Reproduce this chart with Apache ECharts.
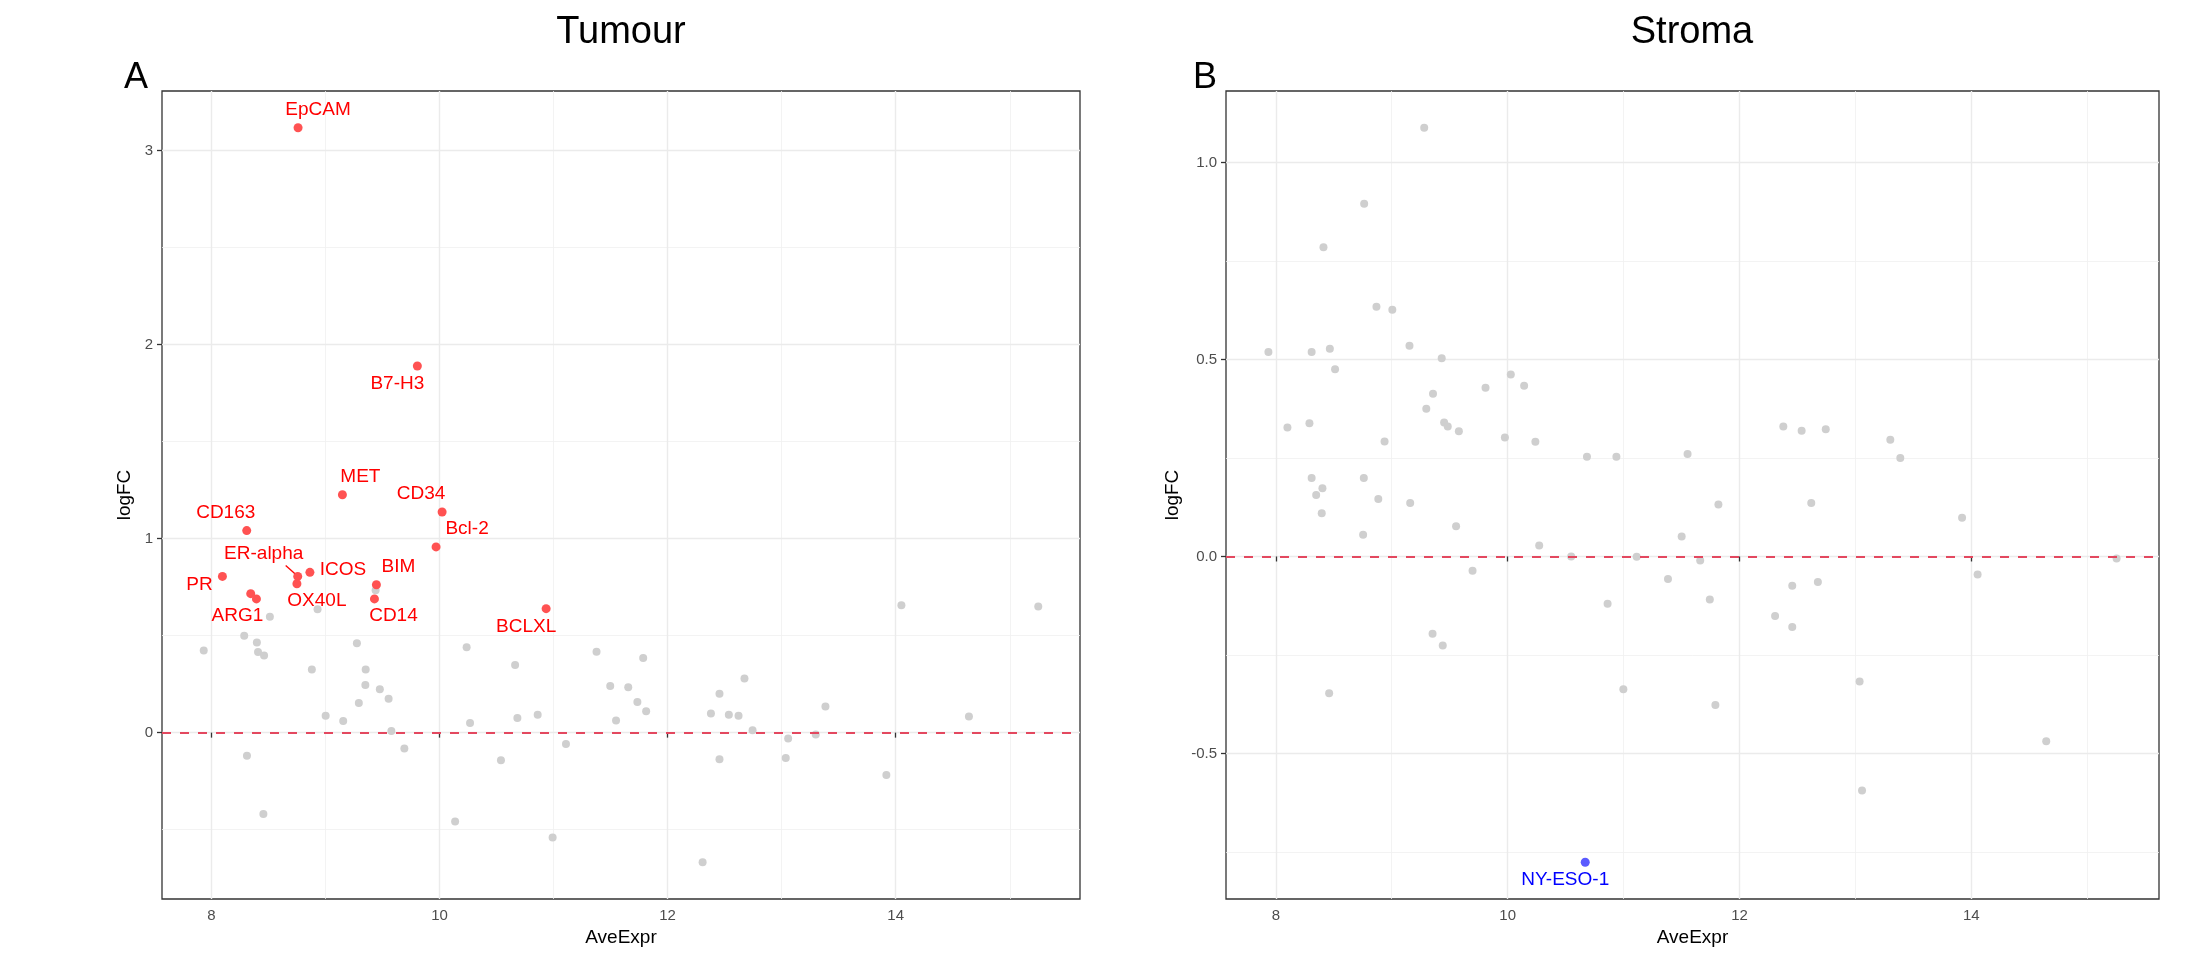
<!DOCTYPE html>
<html>
<head>
<meta charset="utf-8">
<script src="https://cdn.jsdelivr.net/npm/echarts@6/dist/echarts.min.js"></script>
<style>
html,body{margin:0;padding:0;background:#fff;}
#chart{width:2192px;height:954px;}
</style>
</head>
<body>
<div id="chart"></div>
<script>
// ---------------- data ----------------
const panelTitles = ['Tumour', 'Stroma'];
const panelLetters = ['A', 'B'];
const xAxisName = 'AveExpr';
const yAxisName = 'logFC';

const xTicks = [8, 10, 12, 14];
const xMinorGrid = [9, 11, 13, 15];
const tumourYTicks = [0, 1, 2, 3];
const tumourYMinor = [-0.5, 0.5, 1.5, 2.5];
const stromaYTicks = [-0.5, 0, 0.5, 1.0];
const stromaYMinor = [-0.75, -0.25, 0.25, 0.75];

// Tumour: highlighted (red) genes
const tumourHitNames = ['EpCAM', 'B7-H3', 'MET', 'CD34', 'CD163', 'Bcl-2', 'ICOS', 'ER-alpha', 'PR', 'OX40L', 'BIM', '', 'ARG1', 'CD14', 'BCLXL'];
const tumourHitX = [8.760, 9.806, 9.149, 10.023, 8.310, 9.970, 8.864, 8.757, 8.097, 8.750, 9.447, 8.345, 8.395, 9.430, 10.935];
const tumourHitY = [3.117, 1.889, 1.226, 1.137, 1.041, 0.957, 0.826, 0.805, 0.805, 0.767, 0.762, 0.716, 0.689, 0.689, 0.639];

// Tumour: other genes (grey)
const tumourOtherX = [8.513, 8.931, 9.440, 7.933, 8.288, 8.399, 8.409, 8.462, 9.276, 8.881, 9.353, 9.350, 9.477, 9.293, 9.554, 9.002, 9.156, 9.578, 9.692, 8.312, 8.456, 10.238, 10.268, 10.137, 10.663, 10.683, 10.861, 10.539, 10.992, 11.109, 11.377, 11.786, 11.497, 11.655, 11.735, 11.812, 11.548, 12.455, 12.674, 12.380, 12.537, 12.622, 12.745, 13.057, 13.299, 13.384, 12.455, 13.036, 12.307, 14.050, 15.250, 14.642, 13.918];
const tumourOtherY = [0.597, 0.636, 0.734, 0.423, 0.499, 0.464, 0.416, 0.398, 0.460, 0.325, 0.325, 0.245, 0.224, 0.153, 0.174, 0.087, 0.060, 0.009, -0.082, -0.119, -0.419, 0.440, 0.050, -0.458, 0.348, 0.075, 0.092, -0.142, -0.540, -0.059, 0.417, 0.384, 0.240, 0.234, 0.158, 0.110, 0.062, 0.201, 0.279, 0.098, 0.092, 0.087, 0.012, -0.030, -0.009, 0.135, -0.137, -0.131, -0.668, 0.657, 0.650, 0.083, -0.218];

// Stroma: highlighted (blue) genes
const stromaHitNames = ['NY-ESO-1'];
const stromaHitX = [10.669];
const stromaHitY = [-0.776];

// Stroma: other genes (grey)
const stromaOtherX = [9.280, 8.762, 8.411, 8.868, 9.005, 7.936, 8.309, 8.466, 9.153, 9.431, 8.511, 10.027, 9.809, 10.142, 9.356, 9.298, 8.100, 8.290, 9.452, 9.483, 9.579, 8.938, 9.976, 10.239, 10.684, 10.938, 11.552, 8.309, 8.759, 8.402, 8.348, 8.884, 9.159, 8.396, 8.753, 9.555, 10.272, 10.548, 9.697, 11.113, 11.501, 11.383, 10.862, 9.352, 9.440, 8.460, 10.998, 11.818, 11.661, 11.744, 11.792, 12.378, 12.536, 12.744, 12.619, 12.455, 12.676, 12.307, 12.455, 13.036, 13.057, 13.301, 13.387, 13.920, 14.054, 14.646, 15.253];
const stromaOtherY = [1.088, 0.895, 0.785, 0.634, 0.626, 0.519, 0.519, 0.527, 0.535, 0.503, 0.475, 0.462, 0.428, 0.433, 0.413, 0.375, 0.327, 0.338, 0.340, 0.330, 0.318, 0.292, 0.302, 0.291, 0.253, 0.253, 0.260, 0.199, 0.199, 0.173, 0.156, 0.146, 0.136, 0.110, 0.055, 0.077, 0.028, 0.000, -0.036, -0.001, 0.051, -0.057, -0.120, -0.196, -0.226, -0.347, -0.337, 0.132, -0.010, -0.109, -0.377, 0.330, 0.319, 0.323, 0.136, -0.074, -0.065, -0.151, -0.179, -0.317, -0.594, 0.296, 0.250, 0.098, -0.046, -0.469, -0.005];

// ---------------- styling (label placement in pixels) ----------------
const labelOffsets = {
  'EpCAM': [20, -18], 'B7-H3': [-20, 18], 'MET': [18, -18], 'CD34': [-21, -18],
  'CD163': [-21, -18], 'Bcl-2': [31, -18], 'ICOS': [33, -3], 'ER-alpha': [-34, -23],
  'PR': [-23, 8], 'OX40L': [20, 17], 'BIM': [22, -18], 'ARG1': [-19, 17],
  'CD14': [19, 17], 'BCLXL': [-20, 18], 'NY-ESO-1': [-20, 17]
};
const FONT = 'Liberation Sans, Arial, Helvetica, sans-serif';

function zip(xs, ys) { return xs.map((x, i) => [x, ys[i]]); }
function expandRange(xs) {
  const mn = Math.min(...xs), mx = Math.max(...xs);
  const pad = 0.05 * (mx - mn);
  return [mn - pad, mx + pad];
}
function hitData(names, xs, ys) {
  return names.map((n, i) => ({
    name: n,
    value: [xs[i], ys[i]],
    label: n ? { show: true, offset: labelOffsets[n] || [0, -18] } : { show: false }
  }));
}

const tX = expandRange(tumourHitX.concat(tumourOtherX));
const tY = expandRange(tumourHitY.concat(tumourOtherY));
const sX = expandRange(stromaHitX.concat(stromaOtherX));
const sY = expandRange(stromaHitY.concat(stromaOtherY));

const majorLine = { color: '#ebebeb', width: 1.4, type: 'solid' };
const minorLine = { color: '#f0f0f0', width: 0.8, type: 'solid' };

function gridLinesSeries(idx, xMajor, xMinor, yMajor, yMinor) {
  const d = [];
  xMinor.forEach(v => d.push({ xAxis: v, lineStyle: minorLine }));
  yMinor.forEach(v => d.push({ yAxis: v, lineStyle: minorLine }));
  xMajor.forEach(v => d.push({ xAxis: v, lineStyle: majorLine }));
  yMajor.forEach(v => d.push({ yAxis: v, lineStyle: majorLine }));
  return {
    type: 'scatter', xAxisIndex: idx, yAxisIndex: idx, data: [], z: 0, silent: true,
    markLine: { silent: true, symbol: ['none', 'none'], label: { show: false }, animation: false, z: 0, data: d }
  };
}
function zeroLineSeries(idx) {
  return {
    type: 'scatter', xAxisIndex: idx, yAxisIndex: idx, data: [], z: 10, silent: true,
    markLine: {
      silent: true, symbol: ['none', 'none'], label: { show: false }, animation: false, z: 10,
      data: [{ yAxis: 0 }],
      lineStyle: { color: '#e3485f', width: 1.8, type: [9, 9] }
    }
  };
}

function xAxisCfg(idx, range) {
  return {
    type: 'value', gridIndex: idx, min: range[0], max: range[1],
    name: xAxisName, nameLocation: 'middle', nameGap: 28,
    nameTextStyle: { color: '#000', fontSize: 19, fontFamily: FONT },
    axisLine: { show: false },
    axisTick: { show: true, length: 5, lineStyle: { color: '#333', width: 1.3 }, customValues: xTicks },
    axisLabel: { customValues: xTicks, color: '#4d4d4d', fontSize: 15, fontFamily: FONT, margin: 9 },
    splitLine: { show: false }
  };
}
function yAxisCfg(idx, range, ticks, gap, fmt) {
  return {
    type: 'value', gridIndex: idx, min: range[0], max: range[1],
    name: yAxisName, nameLocation: 'middle', nameGap: gap,
    nameTextStyle: { color: '#000', fontSize: 19, fontFamily: FONT },
    axisLine: { show: false },
    axisTick: { show: true, length: 5, lineStyle: { color: '#333', width: 1.3 }, customValues: ticks },
    axisLabel: { customValues: ticks, color: '#4d4d4d', fontSize: 15, fontFamily: FONT, margin: 9, formatter: fmt },
    splitLine: { show: false }
  };
}

const chart = echarts.init(document.getElementById('chart'), null, { renderer: 'canvas' });

const option = {
  animation: false,
  backgroundColor: '#fff',
  grid: [
    { left: 162, right: 1112, top: 91, bottom: 55, show: true, borderColor: '#333', borderWidth: 1.3, backgroundColor: '#fff' },
    { left: 1226, right: 33, top: 91, bottom: 55, show: true, borderColor: '#333', borderWidth: 1.3, backgroundColor: '#fff' }
  ],
  xAxis: [xAxisCfg(0, tX), xAxisCfg(1, sX)],
  yAxis: [
    yAxisCfg(0, tY, tumourYTicks, 28, v => String(v)),
    yAxisCfg(1, sY, stromaYTicks, 44, v => v.toFixed(1))
  ],
  graphic: [
    { id: 't0', type: 'text', x: 621, y: 33, style: { text: panelTitles[0], fontSize: 38, fontFamily: FONT, fill: '#000', align: 'center', verticalAlign: 'middle' } },
    { id: 't1', type: 'text', x: 1692, y: 33, style: { text: panelTitles[1], fontSize: 38, fontFamily: FONT, fill: '#000', align: 'center', verticalAlign: 'middle' } },
    { id: 'l0', type: 'text', x: 136, y: 78, style: { text: panelLetters[0], fontSize: 36, fontFamily: FONT, fill: '#000', align: 'center', verticalAlign: 'middle' } },
    { id: 'l1', type: 'text', x: 1205, y: 78, style: { text: panelLetters[1], fontSize: 36, fontFamily: FONT, fill: '#000', align: 'center', verticalAlign: 'middle' } }
  ],
  series: [
    gridLinesSeries(0, xTicks, xMinorGrid, tumourYTicks, tumourYMinor),
    gridLinesSeries(1, xTicks, xMinorGrid, stromaYTicks, stromaYMinor),
    {
      type: 'scatter', xAxisIndex: 0, yAxisIndex: 0, z: 2, silent: true,
      symbolSize: 8, itemStyle: { color: '#cfcfcf', opacity: 1 },
      data: zip(tumourOtherX, tumourOtherY)
    },
    {
      type: 'scatter', xAxisIndex: 1, yAxisIndex: 1, z: 2, silent: true,
      symbolSize: 8, itemStyle: { color: '#cfcfcf', opacity: 1 },
      data: zip(stromaOtherX, stromaOtherY)
    },
    zeroLineSeries(0),
    zeroLineSeries(1),
    {
      type: 'scatter', xAxisIndex: 0, yAxisIndex: 0, z: 12, silent: true,
      symbolSize: 9, itemStyle: { color: '#ff5252', opacity: 1 },
      label: { show: true, position: 'inside', formatter: '{b}', color: '#ff0000', opacity: 1, fontSize: 19, fontFamily: FONT },
      data: hitData(tumourHitNames, tumourHitX, tumourHitY)
    },
    {
      type: 'scatter', xAxisIndex: 1, yAxisIndex: 1, z: 12, silent: true,
      symbolSize: 9, itemStyle: { color: '#5a5aff', opacity: 1 },
      label: { show: true, position: 'inside', formatter: '{b}', color: '#0000ff', opacity: 1, fontSize: 19, fontFamily: FONT },
      data: hitData(stromaHitNames, stromaHitX, stromaHitY)
    }
  ]
};
chart.setOption(option);

// leader line for the displaced ER-alpha label
const erIdx = tumourHitNames.indexOf('ER-alpha');
const p = chart.convertToPixel({ xAxisIndex: 0, yAxisIndex: 0 }, [tumourHitX[erIdx], tumourHitY[erIdx]]);
chart.setOption({
  graphic: [{
    id: 'leader', type: 'line', z: 20,
    shape: { x1: p[0] - 12, y1: p[1] - 11, x2: p[0] - 3, y2: p[1] - 3 },
    style: { stroke: '#ff0000', lineWidth: 1.3 }
  }]
});
</script>
</body>
</html>
